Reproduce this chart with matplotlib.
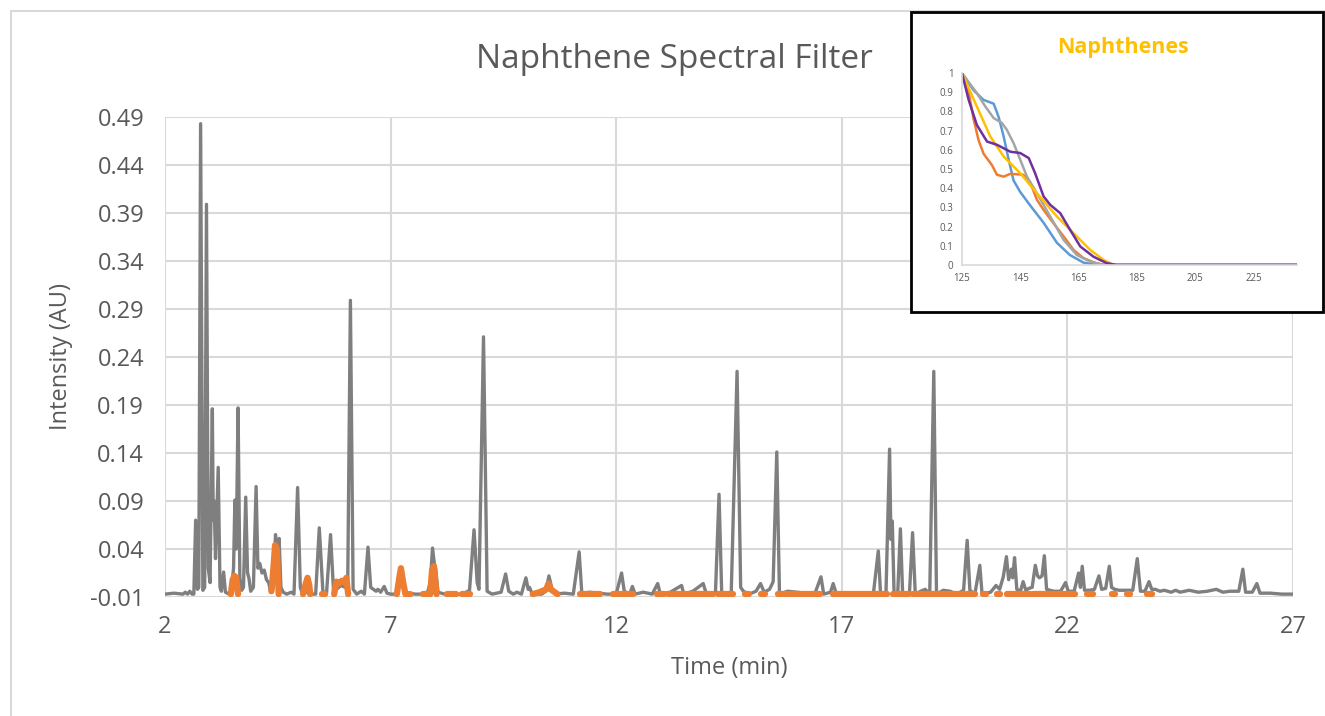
import numpy as np
import matplotlib.pyplot as plt
from matplotlib.patches import Rectangle

plt.rcParams["font.family"] = ["Open Sans", "DejaVu Sans"]

# baseline of the chromatogram
base = -0.007

# total ion trace, vertices (time min, intensity AU)
gray_trace = [
    (2.00, base), (2.20, -0.006), (2.40, base), (2.45, -0.005), (2.50, base), (2.55, -0.004), (2.60, base),
    (2.64, base), (2.68, 0.070), (2.72, -0.002), (2.75, 0.0), (2.79, 0.483), (2.84, -0.003),
    (2.88, 0.0), (2.92, 0.399), (2.96, 0.02), (3.00, 0.005), (3.05, 0.186), (3.07, 0.07),
    (3.09, 0.09), (3.12, 0.03), (3.18, 0.125), (3.22, 0.0), (3.25, -0.004), (3.30, 0.016),
    (3.34, -0.005), (3.42, base), (3.47, -0.004), (3.52, 0.02), (3.55, 0.091), (3.58, 0.04),
    (3.62, 0.187), (3.66, 0.01), (3.70, -0.003), (3.74, 0.0), (3.79, 0.094), (3.83, 0.015),
    (3.86, 0.01), (3.90, -0.004), (3.96, 0.0), (4.02, 0.105), (4.06, 0.02), (4.10, 0.025),
    (4.15, 0.015), (4.20, 0.018), (4.25, 0.008), (4.30, 0.005), (4.34, -0.005), (4.40, 0.0),
    (4.45, 0.055), (4.49, 0.03), (4.53, 0.051), (4.57, 0.0), (4.62, -0.005), (4.70, base),
    (4.80, -0.005), (4.86, base), (4.94, 0.104), (5.00, 0.0), (5.05, base), (5.12, -0.004),
    (5.20, base), (5.34, base), (5.42, 0.062), (5.50, -0.004), (5.58, base), (5.67, 0.055),
    (5.74, base), (5.80, -0.002), (5.90, 0.002), (6.00, 0.0), (6.05, 0.0), (6.11, 0.299),
    (6.17, -0.002), (6.25, base), (6.35, -0.004), (6.42, base), (6.50, 0.042), (6.56, 0.0),
    (6.62, -0.002), (6.68, -0.004), (6.72, -0.002), (6.78, -0.005), (6.86, 0.001), (6.92, -0.006),
    (7.00, base), (7.12, base), (7.23, 0.018), (7.30, -0.004), (7.40, -0.006), (7.55, base),
    (7.70, base), (7.82, -0.005), (7.88, 0.005), (7.93, 0.041), (7.97, 0.025), (8.00, 0.02),
    (8.05, -0.005), (8.20, base), (8.40, base), (8.60, base), (8.75, -0.003), (8.85, 0.060),
    (8.92, 0.005), (8.96, -0.002), (9.06, 0.261), (9.14, -0.004), (9.25, base), (9.45, -0.005),
    (9.55, 0.014), (9.62, -0.004), (9.72, base), (9.80, -0.005), (9.90, base), (10.00, 0.010),
    (10.05, -0.002), (10.08, 0.0), (10.14, base), (10.35, base), (10.44, -0.004), (10.51, 0.012),
    (10.58, -0.002), (10.65, base), (10.85, -0.006), (11.05, base), (11.18, 0.037), (11.24, base),
    (11.40, -0.005), (11.60, -0.006), (11.80, base), (12.00, base), (12.12, 0.015), (12.18, -0.004),
    (12.30, base), (12.36, 0.001), (12.42, base), (12.60, -0.005), (12.80, base), (12.92, 0.004),
    (12.98, base), (13.20, -0.005), (13.45, 0.002), (13.50, base), (13.70, -0.004), (13.93, 0.004),
    (14.00, base), (14.20, base), (14.28, 0.097), (14.34, base), (14.55, base), (14.68, 0.225),
    (14.76, 0.0), (14.82, -0.004), (14.95, base), (15.10, -0.004), (15.20, 0.004), (15.28, -0.005),
    (15.40, -0.002), (15.48, 0.006), (15.56, 0.141), (15.62, base), (15.80, -0.004), (16.00, -0.005),
    (16.20, -0.006), (16.40, base), (16.54, 0.011), (16.60, base), (16.75, -0.005), (16.81, 0.004),
    (16.88, base), (17.10, base), (17.40, base), (17.70, base), (17.81, 0.038), (17.86, base),
    (17.98, base), (18.06, 0.144), (18.09, 0.05), (18.12, 0.069), (18.16, base), (18.24, base),
    (18.30, 0.061), (18.35, base), (18.50, base), (18.57, 0.057), (18.63, base), (18.75, -0.004),
    (18.85, -0.002), (18.95, base), (19.04, 0.225), (19.10, base), (19.25, -0.003), (19.40, -0.004),
    (19.55, base), (19.70, -0.003), (19.78, 0.049), (19.84, -0.003), (19.95, base), (20.06, 0.023),
    (20.11, base), (20.30, -0.005), (20.42, 0.002), (20.50, -0.002), (20.58, 0.011), (20.65, 0.032),
    (20.70, 0.008), (20.76, 0.019), (20.79, 0.01), (20.83, 0.031), (20.88, -0.002), (20.96, -0.004),
    (21.02, 0.006), (21.08, -0.003), (21.15, -0.001), (21.22, 0.0), (21.29, 0.023), (21.34, 0.012),
    (21.38, 0.01), (21.44, 0.012), (21.49, 0.033), (21.54, -0.002), (21.70, -0.004), (21.85, -0.004),
    (21.96, 0.005), (22.02, -0.004), (22.15, -0.004), (22.25, 0.015), (22.29, 0.0), (22.33, 0.022),
    (22.38, -0.003), (22.50, -0.003), (22.60, -0.002), (22.70, 0.012), (22.76, -0.002), (22.85, -0.001),
    (22.93, 0.022), (22.98, 0.0), (23.05, -0.002), (23.15, -0.003), (23.30, -0.003), (23.45, -0.003),
    (23.55, 0.030), (23.62, -0.004), (23.72, -0.004), (23.81, 0.006), (23.87, -0.002), (23.95, -0.002),
    (24.05, -0.004), (24.15, -0.003), (24.30, -0.005), (24.40, -0.003), (24.50, -0.005), (24.70, -0.003),
    (24.90, -0.005), (25.10, -0.004), (25.30, -0.002), (25.45, -0.005), (25.60, -0.004), (25.80, -0.004),
    (25.89, 0.019), (25.95, -0.005), (26.10, -0.005), (26.20, 0.004), (26.27, -0.006), (26.50, -0.006),
    (26.75, base), (27.00, base),
]

# naphthene-filtered trace: short runs with small peaks
orange_peaks = [
    [(3.46, base), (3.50, 0.008), (3.54, 0.012), (3.58, 0.010), (3.62, base)],
    [(4.36, -0.004), (4.40, 0.018), (4.44, 0.044), (4.48, 0.040), (4.52, base)],
    [(5.06, base), (5.12, 0.004), (5.16, 0.010), (5.20, 0.002), (5.22, base)],
    [(5.75, base), (5.80, 0.006), (5.86, 0.004), (5.92, 0.007), (5.97, 0.005), (6.02, 0.010), (6.06, base)],
    [(7.14, base), (7.20, 0.012), (7.23, 0.020), (7.28, 0.005), (7.33, base), (7.44, base)],
    [(7.88, base), (7.92, 0.018), (7.96, 0.022), (8.02, base)],
    [(10.15, base), (10.30, -0.005), (10.45, -0.002), (10.50, 0.004), (10.55, -0.002), (10.70, base)],
]
# naphthene-filtered trace: runs that stay on the baseline (start, end)
orange_flat = [
    (5.48, 5.54), (7.72, 7.84), (8.25, 8.45), (8.58, 8.76), (11.20, 11.65), (11.93, 12.38),
    (12.90, 13.05), (13.15, 13.55), (13.62, 14.15), (14.25, 14.60), (14.85, 14.95), (15.20, 15.30),
    (15.58, 16.52), (16.80, 18.00), (18.14, 18.50), (18.58, 19.70), (19.77, 19.95), (20.13, 20.20),
    (20.44, 20.50), (20.66, 21.17), (21.24, 22.17), (22.43, 22.57), (22.99, 23.06), (23.32, 23.39),
    (23.76, 23.87),
]

# inset: normalised absorbance spectra of naphthenes (wavelength nm, relative)
spec_blue = [(125, 1), (129, 0.91), (132.4, 0.86), (135.9, 0.84), (137.6, 0.77), (139.3, 0.67),
             (141, 0.55), (142.7, 0.44), (145, 0.38), (148.4, 0.31), (153, 0.22), (157.6, 0.115),
             (162, 0.052), (166.7, 0.012), (171, 0), (240, 0)]
spec_orange = [(125, 1), (127.3, 0.90), (129, 0.76), (130.7, 0.65), (132.4, 0.58), (135.3, 0.52),
               (137, 0.47), (139.3, 0.46), (141.6, 0.475), (146, 0.47), (148.4, 0.43), (150.7, 0.34),
               (153, 0.287), (156.4, 0.217), (159.9, 0.148), (163.3, 0.078), (166.7, 0.035),
               (171, 0.009), (174, 0), (240, 0)]
spec_gray = [(125, 1), (126.7, 0.965), (130.1, 0.896), (133, 0.826), (135.9, 0.765), (138.7, 0.74),
             (140.4, 0.704), (142.7, 0.635), (145, 0.548), (147.3, 0.46), (150.7, 0.374),
             (155.3, 0.252), (159.9, 0.13), (164.4, 0.052), (169, 0.017), (173.6, 0), (240, 0)]
spec_yellow = [(125, 1), (130.1, 0.826), (134.7, 0.67), (139.3, 0.565), (145, 0.478), (150.7, 0.374),
               (157.6, 0.252), (164.4, 0.148), (169, 0.078), (173.6, 0.026), (177, 0), (240, 0)]
spec_purple = [(125, 1), (127.3, 0.86), (130.1, 0.73), (133.6, 0.643), (137, 0.626), (141.6, 0.59),
               (145, 0.583), (147.9, 0.557), (150.1, 0.478), (153, 0.357), (155.3, 0.313),
               (158.7, 0.27), (162.1, 0.183), (165.6, 0.096), (170.1, 0.043), (174.7, 0.009),
               (178, 0), (240, 0)]

y_ticks = [-0.01, 0.04, 0.09, 0.14, 0.19, 0.24, 0.29, 0.34, 0.39, 0.44, 0.49]
x_ticks = [2, 7, 12, 17, 22, 27]
inset_x_ticks = [125, 145, 165, 185, 205, 225]
inset_y_ticks = [0, 0.1, 0.2, 0.3, 0.4, 0.5, 0.6, 0.7, 0.8, 0.9, 1]

txt = "#595959"
grid = "#d9d9d9"

fig = plt.figure(figsize=(13.25, 7.16), dpi=100)

# outer chart frame
fig.patches.append(Rectangle((0.0083, -0.01), 1.0, 0.995, transform=fig.transFigure,
                             fill=False, edgecolor=grid, linewidth=1.5, zorder=0))

ax = fig.add_axes([0.1245, 0.1662, 0.8513, 0.6704])
gt, gv = zip(*gray_trace)
ax.plot(gt, gv, color="#7f7f7f", linewidth=2.4, solid_joinstyle="round", zorder=3)
for seg in orange_peaks:
    ot, ov = zip(*seg)
    ax.plot(ot, ov, color="#ed7d31", linewidth=4.5, solid_capstyle="round", zorder=4)
for t0, t1 in orange_flat:
    ax.plot([t0, t1], [base, base], color="#ed7d31", linewidth=4.5, solid_capstyle="round", zorder=4)

ax.set_xlim(2, 27)
ax.set_ylim(-0.01, 0.49)
ax.set_xticks(x_ticks)
ax.set_yticks(y_ticks)
ax.set_yticklabels([f"{v:.2f}" for v in y_ticks])
ax.tick_params(length=0, labelsize=17, labelcolor=txt)
ax.tick_params(axis="y", pad=15)
ax.tick_params(axis="x", pad=13)
ax.grid(True, color=grid, linewidth=1.5)
for s in ax.spines.values():
    s.set_visible(False)
ax.set_xlabel("Time (min)", fontsize=17, color=txt, labelpad=12)
ax.set_ylabel("Intensity (AU)", fontsize=17, color=txt, labelpad=12)
fig.text(0.509, 0.917, "Naphthene Spectral Filter", fontsize=24, color=txt, ha="center", va="center")

# inset box with spectra
fig.patches.append(Rectangle((0.6875, 0.564), 0.311, 0.419, transform=fig.transFigure,
                             facecolor="white", edgecolor="black", linewidth=2, zorder=5))
ins = fig.add_axes([0.726, 0.630, 0.253, 0.268])
ins.set_zorder(6)
ins.patch.set_alpha(0)
for spec, c in [(spec_blue, "#5b9bd5"), (spec_orange, "#ed7d31"), (spec_gray, "#a5a5a5"),
                (spec_yellow, "#ffc000"), (spec_purple, "#7030a0")]:
    sx, sy = zip(*spec)
    ins.plot(sx, sy, color=c, linewidth=1.8)
ins.set_xlim(125, 240)
ins.set_ylim(0, 1)
ins.set_xticks(inset_x_ticks)
ins.set_yticks(inset_y_ticks)
ins.set_yticklabels([f"{v:g}" for v in inset_y_ticks])
ins.tick_params(length=0, labelsize=7, labelcolor=txt, pad=6)
for side in ["top", "right"]:
    ins.spines[side].set_visible(False)
for side in ["left", "bottom"]:
    ins.spines[side].set_color(grid)
    ins.spines[side].set_linewidth(1.2)
fig.text(0.8475, 0.934, "Naphthenes", fontsize=15.5, fontweight="bold", color="#ffc000",
         ha="center", va="center", zorder=7)

fig.savefig("out.png", dpi=100)
